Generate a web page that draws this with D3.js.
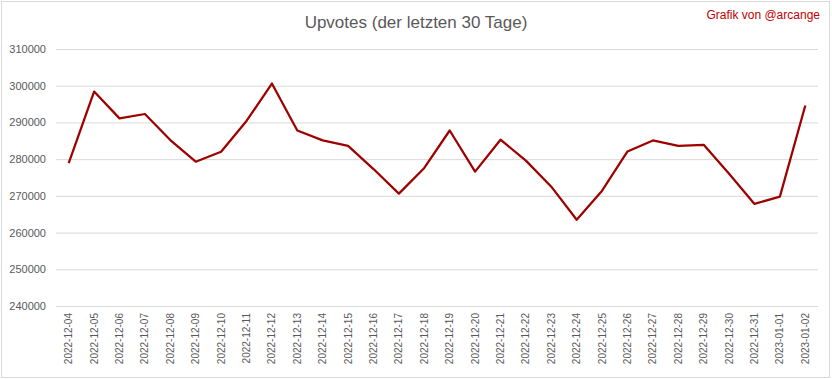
<!DOCTYPE html>
<html>
<head>
<meta charset="utf-8">
<script src="https://cdn.jsdelivr.net/npm/d3@7"></script>
<style>
  body { margin: 0; background: #fff; }
  svg { display: block; font-family: 'Liberation Sans', Arial, sans-serif; }
</style>
</head>
<body>
<svg id="chart"></svg>
<script>
const dates = [
  '2022-12-04', '2022-12-05', '2022-12-06', '2022-12-07', '2022-12-08',
  '2022-12-09', '2022-12-10', '2022-12-11', '2022-12-12', '2022-12-13',
  '2022-12-14', '2022-12-15', '2022-12-16', '2022-12-17', '2022-12-18',
  '2022-12-19', '2022-12-20', '2022-12-21', '2022-12-22', '2022-12-23',
  '2022-12-24', '2022-12-25', '2022-12-26', '2022-12-27', '2022-12-28',
  '2022-12-29', '2022-12-30', '2022-12-31', '2023-01-01', '2023-01-02',
];
const upvotes = [
  278900, 298400, 291100, 292300, 285200,
  279300, 282000, 290400, 300600, 287800,
  285100, 283600, 277300, 270600, 277600,
  287800, 276600, 285300, 279600, 272500,
  263500, 271400, 282100, 285100, 283600,
  283900, 276000, 267800, 269800, 294600,
];
const yTicks = [240000, 250000, 260000, 270000, 280000, 290000, 300000, 310000];

const title = 'Upvotes (der letzten 30 Tage)';
const credit = 'Grafik von @arcange';

const width = 832;
const height = 379;
const margin = { top: 49, right: 14, bottom: 73, left: 56 };

const svg = d3.select('#chart').attr('width', width).attr('height', height);

// outer chart border
svg.append('rect')
  .attr('x', 1.5).attr('y', 1.5)
  .attr('width', 828).attr('height', 376)
  .attr('fill', '#fff')
  .attr('stroke', '#d9d9d9');

const x = d3.scaleBand()
  .domain(dates)
  .range([margin.left, width - margin.right]);

const y = d3.scaleLinear()
  .domain([240000, 310000])
  .range([height - margin.bottom, margin.top]);

// gridlines + y labels
const yAxis = svg.append('g')
  .attr('transform', `translate(${margin.left},0)`)
  .call(d3.axisLeft(y)
    .tickValues(yTicks)
    .tickSize(-(width - margin.left - margin.right))
    .tickPadding(10)
    .tickFormat(d3.format('d')));
yAxis.select('.domain').remove();
yAxis.selectAll('.tick line').attr('stroke', '#d9d9d9');
yAxis.selectAll('.tick text')
  .attr('fill', '#595959')
  .style('font-size', '11px');

// x labels
const xAxis = svg.append('g')
  .attr('transform', `translate(0,${height - margin.bottom})`)
  .call(d3.axisBottom(x).tickSize(0).tickPadding(0));
xAxis.select('.domain').remove();
xAxis.selectAll('.tick text')
  .attr('fill', '#595959')
  .style('font-size', '10px')
  .attr('text-anchor', 'end')
  .attr('dy', '0.35em')
  .attr('transform', 'translate(0,7) rotate(-90)');

// line
const line = d3.line()
  .x((d, i) => x(dates[i]) + x.bandwidth() / 2)
  .y((d) => y(d));

svg.append('path')
  .datum(upvotes)
  .attr('fill', 'none')
  .attr('stroke', '#9e0000')
  .attr('stroke-width', 2.25)
  .attr('stroke-linejoin', 'round')
  .attr('d', line);

// titles
svg.append('text')
  .attr('x', 416).attr('y', 28)
  .attr('text-anchor', 'middle')
  .attr('fill', '#595959')
  .style('font-size', '17px')
  .text(title);

svg.append('text')
  .attr('x', 820).attr('y', 19)
  .attr('text-anchor', 'end')
  .attr('fill', '#c00000')
  .style('font-size', '12px')
  .text(credit);
</script>
</body>
</html>
